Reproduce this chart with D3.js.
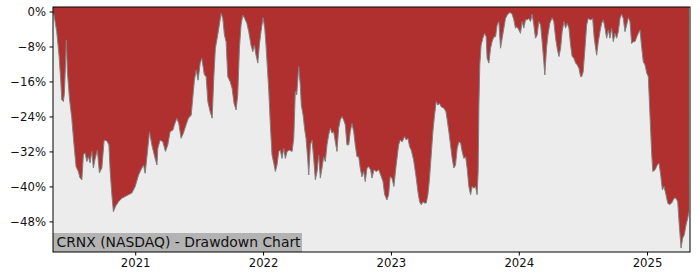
<!DOCTYPE html>
<html>
<head>
<meta charset="utf-8">
<script src="https://cdn.jsdelivr.net/npm/d3@7"></script>
<style>
  body { margin: 0; background: #fff; }
  svg { display: block; }
  text { font-family: "DejaVu Sans", sans-serif; }
</style>
</head>
<body>
<svg width="700" height="280"></svg>
<script>
// dates as decimal years, drawdown in percent
var years = [
  2020.360, 2020.367, 2020.388, 2020.406, 2020.420, 2020.427, 2020.440, 2020.448, 2020.459, 2020.463,
  2020.471, 2020.487, 2020.505, 2020.523, 2020.539, 2020.557, 2020.570, 2020.584, 2020.596, 2020.609,
  2020.623, 2020.635, 2020.648, 2020.662, 2020.674, 2020.688, 2020.705, 2020.721, 2020.740, 2020.758,
  2020.779, 2020.795, 2020.805, 2020.818, 2020.830, 2020.846, 2020.870, 2020.896, 2020.922, 2020.948,
  2020.974, 2021.000, 2021.026, 2021.052, 2021.065, 2021.078, 2021.096, 2021.112, 2021.130, 2021.156,
  2021.170, 2021.177, 2021.195, 2021.216, 2021.237, 2021.255, 2021.273, 2021.295, 2021.307, 2021.326,
  2021.341, 2021.359, 2021.377, 2021.398, 2021.416, 2021.438, 2021.451, 2021.463, 2021.477, 2021.492,
  2021.508, 2021.521, 2021.541, 2021.555, 2021.568, 2021.586, 2021.602, 2021.615, 2021.627, 2021.641,
  2021.654, 2021.672, 2021.685, 2021.698, 2021.711, 2021.724, 2021.742, 2021.758, 2021.773, 2021.789,
  2021.802, 2021.815, 2021.828, 2021.841, 2021.857, 2021.873, 2021.888, 2021.906, 2021.920, 2021.932,
  2021.945, 2021.959, 2021.971, 2021.984, 2022.000, 2022.013, 2022.023, 2022.034, 2022.045, 2022.057,
  2022.070, 2022.084, 2022.096, 2022.109, 2022.123, 2022.135, 2022.148, 2022.162, 2022.174, 2022.188,
  2022.205, 2022.227, 2022.240, 2022.252, 2022.263, 2022.279, 2022.291, 2022.299, 2022.313, 2022.326,
  2022.336, 2022.349, 2022.357, 2022.370, 2022.383, 2022.396, 2022.409, 2022.422, 2022.435, 2022.448,
  2022.461, 2022.474, 2022.487, 2022.500, 2022.513, 2022.526, 2022.539, 2022.552, 2022.565, 2022.578,
  2022.591, 2022.604, 2022.617, 2022.630, 2022.643, 2022.656, 2022.670, 2022.682, 2022.695, 2022.709,
  2022.721, 2022.734, 2022.748, 2022.760, 2022.773, 2022.787, 2022.799, 2022.813, 2022.826, 2022.841,
  2022.852, 2022.867, 2022.885, 2022.904, 2022.920, 2022.938, 2022.951, 2022.969, 2022.982, 2022.994,
  2023.008, 2023.023, 2023.041, 2023.060, 2023.073, 2023.088, 2023.107, 2023.120, 2023.133, 2023.146,
  2023.159, 2023.177, 2023.198, 2023.211, 2023.224, 2023.237, 2023.250, 2023.263, 2023.276, 2023.289,
  2023.302, 2023.315, 2023.328, 2023.341, 2023.354, 2023.367, 2023.380, 2023.393, 2023.414, 2023.430,
  2023.440, 2023.453, 2023.466, 2023.479, 2023.492, 2023.505, 2023.518, 2023.531, 2023.545, 2023.557,
  2023.570, 2023.584, 2023.596, 2023.609, 2023.623, 2023.635, 2023.648, 2023.662, 2023.674, 2023.682,
  2023.688, 2023.695, 2023.705, 2023.719, 2023.732, 2023.745, 2023.752, 2023.766, 2023.779, 2023.791,
  2023.805, 2023.818, 2023.830, 2023.844, 2023.857, 2023.870, 2023.883, 2023.896, 2023.909, 2023.930,
  2023.948, 2023.961, 2023.974, 2023.987, 2024.000, 2024.013, 2024.026, 2024.039, 2024.052, 2024.065,
  2024.078, 2024.091, 2024.104, 2024.117, 2024.130, 2024.143, 2024.156, 2024.170, 2024.182, 2024.195,
  2024.203, 2024.216, 2024.227, 2024.242, 2024.260, 2024.273, 2024.287, 2024.299, 2024.313, 2024.326,
  2024.338, 2024.352, 2024.365, 2024.377, 2024.391, 2024.404, 2024.416, 2024.430, 2024.443, 2024.455,
  2024.469, 2024.482, 2024.490, 2024.502, 2024.516, 2024.529, 2024.541, 2024.560, 2024.576, 2024.588,
  2024.607, 2024.620, 2024.633, 2024.646, 2024.659, 2024.672, 2024.685, 2024.698, 2024.711, 2024.724,
  2024.737, 2024.750, 2024.763, 2024.776, 2024.789, 2024.802, 2024.815, 2024.828, 2024.841, 2024.854,
  2024.867, 2024.880, 2024.893, 2024.906, 2024.920, 2024.932, 2024.945, 2024.959, 2024.971, 2024.984,
  2024.998, 2025.010, 2025.023, 2025.037, 2025.045, 2025.063, 2025.080, 2025.094, 2025.107, 2025.120,
  2025.133, 2025.148, 2025.162, 2025.174, 2025.193, 2025.211, 2025.227, 2025.240, 2025.252, 2025.266,
  2025.279, 2025.291, 2025.305, 2025.318, 2025.328
];
var drawdown = [
  -0.3, -0.8, -4.6, -10.0, -16.0, -20.2, -20.6, -18.6, -10.0, -6.5,
  -13.8, -19.8, -24.3, -30.5, -35.5, -36.6, -38.1, -38.5, -32.8, -32.3,
  -34.3, -33.2, -34.6, -32.0, -35.8, -33.6, -31.7, -36.9, -35.8, -29.4,
  -29.6, -30.5, -36.6, -41.9, -45.8, -44.6, -43.5, -42.7, -42.3, -41.9,
  -41.5, -40.0, -37.4, -35.8, -35.1, -37.0, -32.0, -27.5, -30.5, -33.6,
  -35.1, -31.3, -29.4, -29.8, -32.0, -30.5, -27.5, -27.1, -25.9, -24.4,
  -25.6, -29.0, -27.8, -25.9, -24.4, -23.7, -19.5, -15.7, -13.4, -15.7,
  -11.8, -10.7, -14.5, -14.9, -20.6, -22.9, -24.4, -14.9, -8.4, -6.1,
  -3.8, -0.4, -1.6, -5.4, -6.9, -14.9, -16.0, -17.6, -21.0, -22.5,
  -19.1, -8.4, -3.1, -0.8, -1.6, -2.7, -4.6, -7.7, -9.2, -7.7,
  -10.0, -11.8, -7.7, -4.6, -1.4, -3.8, -7.7, -13.0, -18.3, -25.9,
  -32.8, -34.7, -36.6, -35.1, -32.0, -31.7, -33.6, -31.3, -33.6, -32.0,
  -31.7, -32.0, -29.0, -18.3, -19.1, -12.6, -16.8, -21.4, -23.7, -27.1,
  -29.0, -33.6, -37.4, -30.5, -29.4, -33.6, -38.5, -36.6, -32.8, -38.1,
  -35.8, -33.2, -34.3, -30.5, -28.2, -26.7, -27.8, -27.5, -29.8, -32.0,
  -26.7, -24.8, -24.0, -24.8, -25.9, -30.5, -30.5, -27.5, -25.6, -27.5,
  -30.5, -33.2, -33.2, -35.8, -37.8, -36.6, -38.9, -35.8, -35.5, -36.2,
  -38.1, -36.2, -36.6, -36.2, -37.4, -38.9, -41.9, -43.1, -41.9, -37.8,
  -38.1, -40.0, -35.1, -30.5, -29.4, -29.8, -28.6, -29.4, -29.0, -30.9,
  -31.7, -33.9, -38.1, -41.2, -43.5, -44.2, -43.5, -43.8, -43.8, -41.9,
  -38.1, -32.8, -27.5, -23.7, -20.6, -21.4, -21.0, -21.8, -22.1, -22.9,
  -24.8, -27.5, -30.5, -33.6, -35.8, -35.1, -31.3, -29.8, -30.1, -32.0,
  -33.6, -33.2, -35.8, -40.0, -41.9, -40.0, -40.4, -40.0, -41.9, -36.6,
  -21.4, -12.2, -7.7, -6.1, -5.0, -5.8, -10.7, -11.8, -8.4, -6.9,
  -5.8, -5.8, -3.1, -2.3, -8.4, -6.1, -3.8, -1.6, -0.8, -0.2,
  -0.6, -1.9, -3.8, -3.5, -4.2, -5.0, -2.3, -3.8, -1.9, -1.9,
  -1.6, -2.3, -0.6, -3.1, -6.1, -5.4, -2.3, -3.1, -6.9, -11.5,
  -14.5, -8.4, -5.4, -2.7, -1.4, -2.3, -6.1, -8.4, -10.3, -8.4,
  -4.6, -2.3, -3.8, -2.7, -3.8, -7.7, -10.3, -10.7, -11.8, -12.2,
  -13.0, -14.9, -14.9, -13.8, -8.4, -3.1, -1.6, -1.9, -1.6, -6.1,
  -10.0, -6.9, -4.6, -2.7, -1.9, -3.8, -6.1, -4.2, -6.1, -3.8,
  -6.9, -5.0, -6.1, -4.6, -1.6, -0.6, -1.6, -4.6, -3.1, -1.4,
  -2.3, -7.3, -6.9, -6.9, -5.8, -5.0, -4.2, -8.4, -11.5, -12.2,
  -14.1, -14.9, -23.7, -32.8, -36.6, -36.2, -35.1, -34.7, -37.4, -40.8,
  -40.0, -41.9, -43.8, -44.2, -43.8, -42.7, -42.7, -43.5, -48.8, -54.1,
  -51.8, -51.1, -48.8, -47.3, -45.8
];
var yTicks = [0, -8, -16, -24, -32, -40, -48];
var xTicks = [2021, 2022, 2023, 2024, 2025];
var xDomain = [2020.359, 2025.336];
var yDomain = [-55, 1.03];
var title = "CRNX (NASDAQ) - Drawdown Chart";

var svg = d3.select("svg"),
    width = 700,
    height = 280;
var margin = { top: 7, right: 10, bottom: 28, left: 53 };
var plotW = width - margin.left - margin.right,
    plotH = height - margin.top - margin.bottom;

// decimal year -> Date
function toDate(t) {
    var yr = Math.floor(t);
    var s = Date.UTC(yr, 0, 1), e = Date.UTC(yr + 1, 0, 1);
    return new Date(s + (t - yr) * (e - s));
}

var data = years.map(function (t, i) { return { date: toDate(t), dd: drawdown[i] }; });

var x = d3.scaleUtc()
    .domain(xDomain.map(toDate))
    .range([margin.left, margin.left + plotW]);
var y = d3.scaleLinear()
    .domain(yDomain)
    .range([margin.top + plotH, margin.top]);

svg.append("defs").append("clipPath").attr("id", "clip")
    .append("rect")
    .attr("x", margin.left).attr("y", margin.top)
    .attr("width", plotW).attr("height", plotH);

// axes background
svg.append("rect")
    .attr("x", margin.left).attr("y", margin.top)
    .attr("width", plotW).attr("height", plotH)
    .attr("fill", "#ececec");

var plot = svg.append("g").attr("clip-path", "url(#clip)");

// red drawdown area, from the top of the axes down to the curve
plot.append("path")
    .datum(data)
    .attr("fill", "#b03030")
    .attr("d", d3.area()
        .x(function (d) { return x(d.date); })
        .y0(margin.top)
        .y1(function (d) { return y(d.dd); }));

plot.append("path")
    .datum(data)
    .attr("fill", "none")
    .attr("stroke", "#808080")
    .attr("stroke-width", 1)
    .attr("d", d3.line()
        .x(function (d) { return x(d.date); })
        .y(function (d) { return y(d.dd); }));

// title box
svg.append("rect")
    .attr("x", margin.left).attr("y", 233)
    .attr("width", 249).attr("height", margin.top + plotH - 233)
    .attr("fill", "#b3b3b3");
svg.append("text")
    .attr("x", 56.5).attr("y", 247)
    .attr("font-size", "13.9px")
    .attr("fill", "#111")
    .text(title);

// y axis
var yAxis = svg.append("g")
    .attr("transform", "translate(" + margin.left + ",0)")
    .call(d3.axisLeft(y)
        .tickValues(yTicks)
        .tickSize(3.5)
        .tickPadding(3.5)
        .tickFormat(function (d) { return (d < 0 ? "\u2212" : "") + Math.abs(d) + "%"; }));

// x axis
var xAxis = svg.append("g")
    .attr("transform", "translate(0," + (margin.top + plotH) + ")")
    .call(d3.axisBottom(x)
        .tickValues(xTicks.map(function (v) { return toDate(v); }))
        .tickSize(3.5)
        .tickPadding(3.5)
        .tickFormat(d3.utcFormat("%Y")));

[yAxis, xAxis].forEach(function (g) {
    g.select(".domain").remove();
    g.selectAll("text")
        .attr("font-family", "DejaVu Sans, sans-serif")
        .attr("font-size", "11.7px")
        .attr("fill", "#111");
    g.selectAll("line").attr("stroke", "#000");
});

// frame
svg.append("rect")
    .attr("x", margin.left).attr("y", margin.top)
    .attr("width", plotW).attr("height", plotH)
    .attr("fill", "none")
    .attr("stroke", "#000")
    .attr("stroke-width", 1);
</script>
</body>
</html>
